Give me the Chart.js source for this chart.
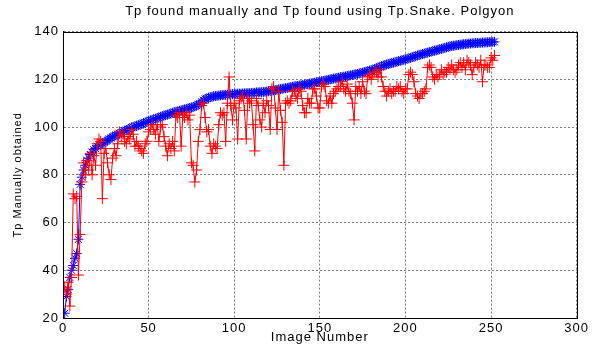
<!DOCTYPE html>
<html>
<head>
<meta charset="utf-8">
<script src="https://cdn.jsdelivr.net/npm/chart.js@4"></script>
<style>
  html, body { margin: 0; padding: 0; background: #fff; }
</style>
</head>
<body>
<canvas id="tp-chart" width="592" height="345"></canvas>
<script>
// Tp found manually (red +)
const manualTp = [
  33, 30, 35, 25, 37, 72, 70, 71, 38, 55,
  77, 85, 80, 86, 82, 89, 80, 88, 84, 93,
  95, 94, 70, 89, 91, 85, 80, 78, 87, 91,
  88, 93, 98, 96, 97, 94, 93, 96, 95, 99,
  97, 92, 94, 92, 91, 90, 89, 93, 94, 98,
  99, 101, 99, 97, 101, 94, 100, 101, 96, 92,
  88, 93, 91, 94, 90, 105, 104, 106, 92, 105,
  104, 106, 103, 105, 85, 84, 77, 82, 94, 99,
  109, 110, 104, 98, 99, 92, 89, 93, 92, 91,
  101, 106, 105, 106, 94, 110, 121, 109, 103, 110,
  108, 95, 111, 112, 113, 107, 95, 112, 110, 111,
  101, 90, 112, 109, 103, 100, 110, 106, 111, 109,
  99, 116, 117, 108, 99, 115, 107, 102, 84, 110,
  111, 110, 111, 115, 115, 113, 112, 116, 115, 109,
  106, 106, 112, 110, 110, 116, 116, 113, 108, 108,
  117, 118, 117, 111, 110, 113, 110, 114, 115, 116,
  117, 117, 119, 116, 115, 118, 115, 114, 110, 103,
  117, 115, 117, 114, 119, 115, 114, 121, 122, 120,
  122, 123, 123, 121, 124, 121, 117, 115, 113, 115,
  116, 114, 115, 115, 117, 116, 117, 115, 114, 116,
  116, 122, 123, 122, 119, 114, 113, 112, 114, 114,
  115, 116, 125, 126, 125, 121, 120, 122, 121, 122,
  124, 122, 123, 123, 125, 124, 126, 124, 123, 124,
  126, 127, 125, 127, 124, 128, 127, 126, 122, 125,
  127, 126, 125, 128, 119, 126, 126, 125, 125, 129,
  128, 130
];

// Tp found using Tp.Snake (blue *), sorted
const snakeTp = [
  22, 29, 32, 37, 40, 42, 45, 47, 53, 76,
  79, 82, 84, 86, 87, 88.5, 89.5, 90.5, 91, 92,
  92.4, 92.8, 93.2, 93.6, 94, 94.5, 95, 95.4, 95.9, 96.3,
  96.6, 97, 97.3, 97.7, 98, 98.4, 98.7, 99.1, 99.4, 99.8,
  100, 100.3, 100.5, 100.8, 101, 101.3, 101.6, 101.9, 102.2, 102.5,
  102.8, 103, 103.3, 103.5, 103.8, 104, 104.3, 104.5, 104.8, 105,
  105.2, 105.5, 105.7, 106, 106.2, 106.4, 106.6, 106.8, 107, 107.2,
  107.4, 107.6, 107.8, 108, 108.2, 108.4, 108.7, 109, 109.4, 109.8,
  110.5, 111.2, 111.8, 112, 112.3, 112.5, 112.7, 112.9, 113, 113.1,
  113.2, 113.3, 113.4, 113.5, 113.5, 113.6, 113.7, 113.7, 113.8, 113.9,
  113.9, 114, 114, 114, 114.1, 114.1, 114.2, 114.2, 114.2, 114.3,
  114.3, 114.4, 114.5, 114.5, 114.6, 114.6, 114.7, 114.8, 114.9, 115,
  115.1, 115.2, 115.4, 115.5, 115.6, 115.8, 115.9, 116, 116.2, 116.3,
  116.4, 116.6, 116.7, 116.9, 117, 117.1, 117.2, 117.4, 117.5, 117.6,
  117.8, 117.9, 118, 118.2, 118.3, 118.5, 118.6, 118.8, 118.9, 119,
  119.2, 119.3, 119.5, 119.6, 119.8, 120, 120.1, 120.3, 120.4, 120.6,
  120.7, 120.9, 121, 121.1, 121.2, 121.4, 121.5, 121.7, 121.8, 122,
  122.1, 122.3, 122.5, 122.6, 122.8, 123, 123.2, 123.4, 123.6, 123.8,
  124, 124.3, 124.6, 124.9, 125.2, 125.5, 125.8, 126, 126.2, 126.4,
  126.6, 126.8, 127, 127.2, 127.4, 127.6, 127.8, 128, 128.2, 128.4,
  128.6, 128.8, 129, 129.3, 129.5, 129.7, 130, 130.2, 130.4, 130.6,
  130.8, 131, 131.2, 131.4, 131.6, 131.8, 132, 132.2, 132.4, 132.6,
  132.8, 133, 133.2, 133.4, 133.6, 133.8, 134, 134.1, 134.2, 134.3,
  134.4, 134.5, 134.6, 134.7, 134.8, 134.9, 135, 135, 135.1, 135.1,
  135.2, 135.2, 135.3, 135.3, 135.4, 135.4, 135.5, 135.5, 135.6, 135.6,
  135.7, 135.7
];

const xTicks = [0, 50, 100, 150, 200, 250, 300];
const yTicks = [20, 40, 60, 80, 100, 120, 140];

const FONT = { family: '"Liberation Sans", Arial, sans-serif', size: 13, weight: 'normal' };
const SMALL_FONT = { family: '"Liberation Sans", Arial, sans-serif', size: 11, weight: 'normal' };

function toPoints(values) {
  return values.map((v, i) => ({ x: i + 1, y: v }));
}

// matlab style box round the axes + a bit of letter spacing for the text
const framePlugin = {
  id: 'frame',
  beforeUpdate(chart) { chart.ctx.letterSpacing = '1px'; },
  beforeDraw(chart) { chart.ctx.letterSpacing = '1px'; },
  afterDraw(chart) {
    const { ctx, chartArea: a } = chart;
    ctx.save();
    ctx.strokeStyle = '#000';
    ctx.lineWidth = 1;
    ctx.strokeRect(Math.round(a.left) + 0.5, Math.round(a.top) + 0.5,
      Math.round(a.right - a.left), Math.round(a.bottom - a.top));
    ctx.restore();
  }
};

const gridStyle = { color: 'rgba(0,0,0,0.5)', lineWidth: 1, drawTicks: false };

new Chart(document.getElementById('tp-chart'), {
  type: 'line',
  data: {
    datasets: [{
      label: 'Tp manually',
      data: toPoints(manualTp),
      borderColor: '#ff0000',
      backgroundColor: '#ff0000',
      borderWidth: 1,
      pointStyle: 'cross',
      pointRadius: 5.5,
      pointBorderWidth: 1,
      pointBorderColor: '#ff0000',
      tension: 0
    }, {
      label: 'Tp snake',
      data: toPoints(snakeTp),
      borderColor: '#0000ff',
      backgroundColor: '#0000ff',
      borderWidth: 1,
      pointStyle: 'star',
      pointRadius: 5,
      pointBorderWidth: 1,
      pointBorderColor: '#0000ff',
      tension: 0
    }]
  },
  options: {
    responsive: false,
    animation: false,
    devicePixelRatio: 1,
    layout: { padding: { top: 1, right: 13, left: 0, bottom: 0 } },
    plugins: {
      legend: { display: false },
      tooltip: { enabled: false },
      title: {
        display: true,
        text: 'Tp found manually and Tp found using Tp.Snake. Polgyon',
        color: '#000',
        font: FONT,
        fullSize: false,
        padding: { top: 3, bottom: 12 }
      }
    },
    scales: {
      x: {
        type: 'linear',
        min: 0,
        max: 300,
        afterBuildTicks: s => { s.ticks = xTicks.map(v => ({ value: v })); },
        afterFit: s => { s.height = 27; },
        grid: gridStyle,
        border: { display: true, color: '#000', dash: [2, 2] },
        ticks: { color: '#000', font: FONT, padding: 3, maxRotation: 0 },
        title: { display: true, text: 'Image Number', color: '#000', font: FONT, padding: 0 }
      },
      y: {
        type: 'linear',
        min: 20,
        max: 140,
        afterBuildTicks: s => { s.ticks = yTicks.map(v => ({ value: v })); },
        afterFit: s => { s.width = 63; },
        grid: gridStyle,
        border: { display: true, color: '#000', dash: [2, 2] },
        ticks: { color: '#000', font: FONT, padding: 4 },
        title: { display: true, text: 'Tp Manually obtained', color: '#000', font: SMALL_FONT, padding: { top: 11, bottom: 0 } }
      }
    }
  },
  plugins: [framePlugin]
});
</script>
</body>
</html>
